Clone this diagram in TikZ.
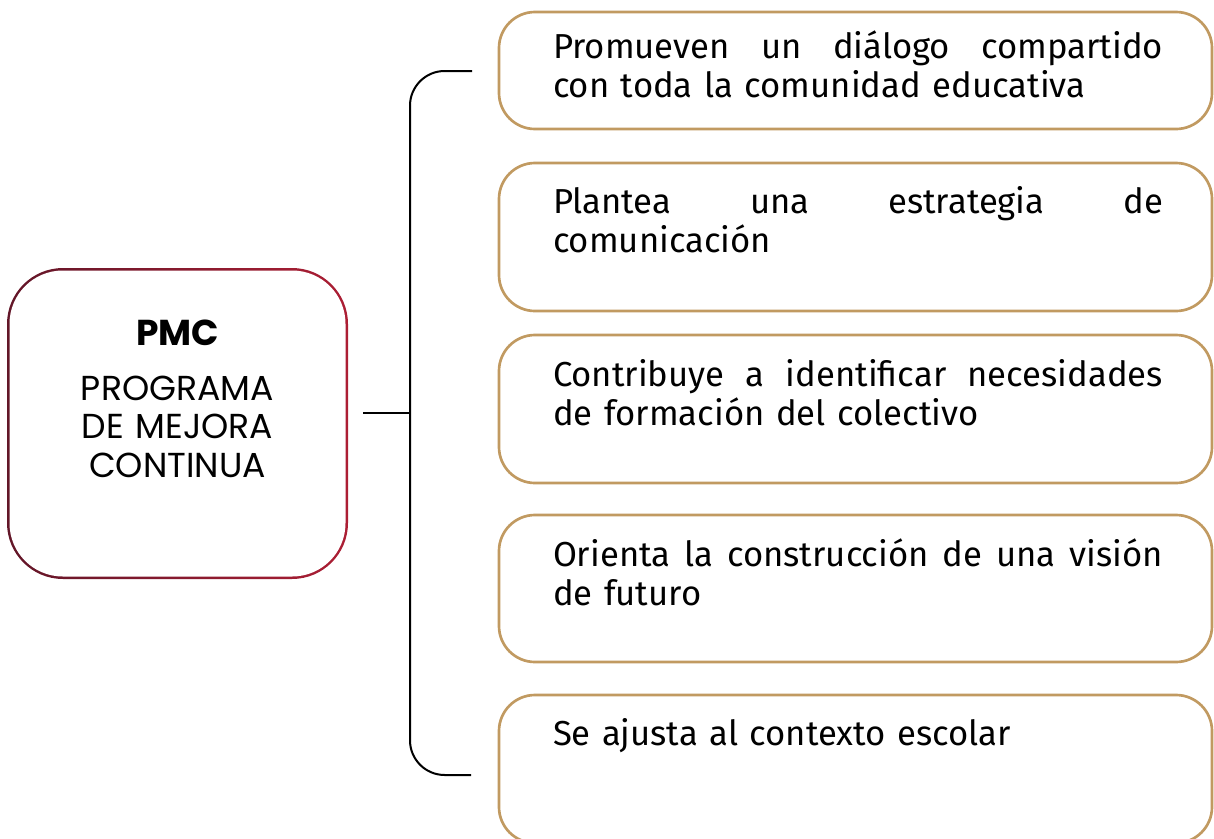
\documentclass[tikz,border=0pt]{standalone}
\usepackage{fontspec}
\setmainfont{Fira Sans}
\newfontfamily\headfont{Poppins}
\usetikzlibrary{positioning, calc}
\definecolor{boxgold}{RGB}{193,154,97}
\definecolor{pmcdark}{RGB}{98,22,40}
\definecolor{pmcred}{RGB}{172,30,52}
\tikzset{
    %set default line width
    every picture/.style={line width=1.5pt},
    idea-box/.style={
        draw=boxgold,
        line width=2pt,
        rounded corners=27pt,
        minimum width=534.75pt,
        inner sep=0pt,
    },
    idea-text/.style={
        anchor=base west,
        inner sep=0pt,
        text width=457.5pt,
        align=left,
        font=\fontsize{26}{29.25}\selectfont,
    },
    pmc-box/.style={
        minimum width=254.25pt,
        minimum height=231.75pt,
        inner sep=0pt,
    },
}
% first line of a box, spread over the full width
\newcommand{\fullline}[1]{\hbox to 457.5pt{\spaceskip=0.25em plus 1fil\relax #1}}

\begin{document}
\begin{tikzpicture}[x=0.75pt,y=-0.75pt]
\useasboundingbox (0,0) rectangle (1214,839);

% PMC box with shaded border
\node[pmc-box] (pmc) at (177.5,423.5) {};
\shade[left color=pmcdark, right color=pmcred, rounded corners=42pt] (pmc.south west) rectangle (pmc.north east);
\fill[white, rounded corners=40pt] ([shift={(2.5,-2.5)}]pmc.south west) rectangle ([shift={(-2.5,2.5)}]pmc.north east);
\node[anchor=base, inner sep=0pt, font=\headfont\bfseries\fontsize{27}{30}\selectfont] (pmc-title) at (177.5,345) {PMC};
\node[anchor=base, inner sep=0pt, text width=240pt, align=center, font=\headfont\fontsize{26}{29}\selectfont] (pmc-name) at (177.5,400) {PROGRAMA\\DE MEJORA\\CONTINUA};

% idea boxes
\node[idea-box, minimum height=87.75pt] (idea1) at (855.5,70.5) {};
\node[idea-box, minimum height=111pt] (idea2) at (855.5,237) {};
\node[idea-box, minimum height=111pt] (idea3) at (855.5,409) {};
\node[idea-box, minimum height=110.25pt] (idea4) at (855.5,588.5) {};
\node[idea-box, minimum height=111pt] (idea5) at (855.5,769) {};

% idea texts
\node[idea-text] (text1) at (552,58) {\fullline{Promueven un diálogo compartido}\\con toda la comunidad educativa};
\node[idea-text] (text2) at (552,213) {\fullline{Plantea una estrategia de}\\comunicación};
\node[idea-text] (text3) at (552,386) {\fullline{Contribuye a identificar necesidades}\\de formación del colectivo};
\node[idea-text] (text4) at (552,566) {\fullline{Orienta la construcción de una visión}\\de futuro};
\node[idea-text] (text5) at (552,745) {Se ajusta al contexto escolar};

% brace connector
\coordinate (brace-mid) at (410,413);
\coordinate (brace-top) at (472,71);
\coordinate (brace-bot) at (471,775);
\draw ($(pmc.east |- brace-mid)+(15,0)$) -- (brace-mid);
\draw[rounded corners=26pt] (brace-top) -- (brace-top -| brace-mid) -- (brace-bot -| brace-mid) -- (brace-bot);
\end{tikzpicture}
\end{document}
